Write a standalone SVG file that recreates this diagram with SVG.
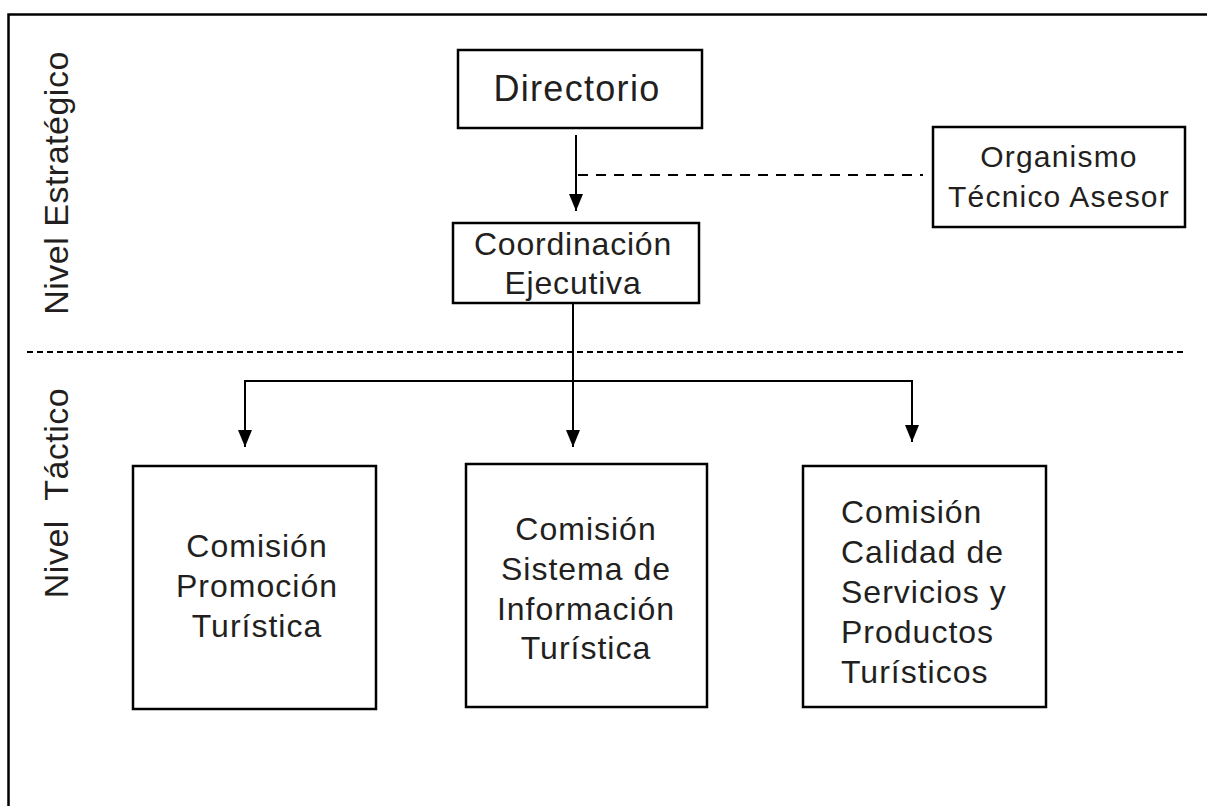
<svg xmlns="http://www.w3.org/2000/svg" width="1207" height="806" viewBox="0 0 1207 806">
<style>
.box{fill:#fff;stroke:#000;stroke-width:2.5}
.t{font-family:"Liberation Sans",Arial,sans-serif;fill:#231f20}
.c{stroke:#000;stroke-width:2;fill:none}
.s{font-size:32px;letter-spacing:1px}
</style>
<defs>
<marker id="ah" viewBox="0 0 17 14" refX="17" refY="7" markerWidth="17" markerHeight="14" markerUnits="userSpaceOnUse" orient="auto">
<path d="M0,0 L17,7 L0,14 Z" fill="#000"/>
</marker>
</defs>
<rect x="0" y="0" width="1207" height="806" fill="#fff"/>
<path d="M8.5,820 L8.5,14.5 L1220,14.5" fill="none" stroke="#000" stroke-width="2.5"/>
<g id="labels">
<text class="t" font-size="34" letter-spacing="0.5" text-anchor="middle" transform="translate(68,183) rotate(-90)">Nivel Estratégico</text>
<text class="t" font-size="34" letter-spacing="0.5" text-anchor="middle" transform="translate(68,493) rotate(-90)" xml:space="preserve">Nivel  Táctico</text>
</g>
<line x1="27" y1="352" x2="1183" y2="352" stroke="#000" stroke-width="2" stroke-dasharray="6,4"/>
<g id="connectors">
<line class="c" x1="576" y1="135" x2="576" y2="211" marker-end="url(#ah)"/>
<line class="c" x1="578" y1="175" x2="923" y2="175" stroke-dasharray="10,8"/>
<line class="c" x1="573" y1="303" x2="573" y2="447" marker-end="url(#ah)"/>
<path class="c" d="M245,381 L912,381 L912,442" marker-end="url(#ah)"/>
<line class="c" x1="245" y1="380" x2="245" y2="447" marker-end="url(#ah)"/>
</g>
<g id="directorio">
<rect class="box" x="458" y="50" width="244" height="78"/>
<text class="t" font-size="36" letter-spacing="1.3" text-anchor="middle" x="577" y="101">Directorio</text>
</g>
<g id="organismo">
<rect class="box" x="933" y="127" width="252" height="100"/>
<text class="t" font-size="30" letter-spacing="1.2" text-anchor="middle" x="1059" y="167">Organismo</text>
<text class="t" font-size="30" letter-spacing="1.2" text-anchor="middle" x="1059" y="207">Técnico Asesor</text>
</g>
<g id="coordinacion">
<rect class="box" x="453" y="223" width="246" height="80"/>
<text class="t" font-size="32" letter-spacing="0.8" text-anchor="middle" x="573" y="255">Coordinación</text>
<text class="t" font-size="32" letter-spacing="0.8" text-anchor="middle" x="573" y="294">Ejecutiva</text>
</g>
<g id="promocion">
<rect class="box" x="133" y="466" width="243" height="243"/>
<text class="t s" text-anchor="middle" x="257" y="557">Comisión</text>
<text class="t s" text-anchor="middle" x="257" y="597">Promoción</text>
<text class="t s" text-anchor="middle" x="257" y="637">Turística</text>
</g>
<g id="sistema">
<rect class="box" x="466" y="464" width="241" height="243"/>
<text class="t s" text-anchor="middle" x="586" y="540">Comisión</text>
<text class="t s" text-anchor="middle" x="586" y="580">Sistema de</text>
<text class="t s" text-anchor="middle" x="586" y="620">Información</text>
<text class="t s" text-anchor="middle" x="586" y="659">Turística</text>
</g>
<g id="calidad">
<rect class="box" x="803" y="466" width="243" height="241"/>
<text class="t s" x="841" y="523">Comisión</text>
<text class="t s" x="841" y="563">Calidad de</text>
<text class="t s" x="841" y="603">Servicios y</text>
<text class="t s" x="841" y="643">Productos</text>
<text class="t s" x="841" y="683">Turísticos</text>
</g>
</svg>
